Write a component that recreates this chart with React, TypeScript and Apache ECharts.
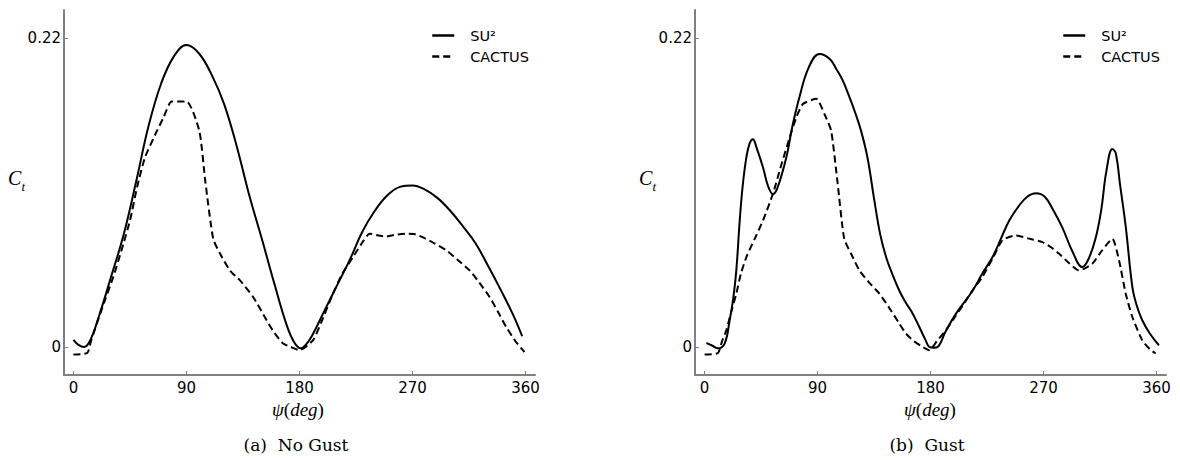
import React, { useEffect, useRef } from "react";
import * as echarts from "echarts";

// ---- data: [psi (deg), Ct] ----
const noGustSU2: [number, number][] = [
  [0, 0.005], [4, 0.0015], [8.5, 0], [13, 0.004], [20, 0.021], [30, 0.05], [40, 0.08], [50, 0.118],
  [60, 0.158], [70, 0.188], [80, 0.207], [90, 0.215], [100, 0.209], [110, 0.194], [120, 0.173],
  [130, 0.143], [140, 0.108], [150, 0.077], [160, 0.045], [170, 0.015], [176, 0.003], [181, -0.001],
  [185, 0.0015], [190, 0.008], [200, 0.026], [210, 0.044], [220, 0.062], [230, 0.082], [240, 0.097],
  [250, 0.108], [260, 0.114], [270, 0.115], [280, 0.112], [290, 0.106], [300, 0.097], [310, 0.086],
  [320, 0.074], [330, 0.058], [340, 0.041], [350, 0.023], [357.3, 0.0076],
];

const noGustCACTUS: [number, number][] = [
  [0, -0.0054], [11, -0.0043], [14, 0.004], [18.6, 0.0166], [25, 0.033], [31.8, 0.05], [38, 0.068],
  [45, 0.09], [51, 0.115], [57, 0.135], [65, 0.151], [72, 0.164], [78.2, 0.1748], [90.1, 0.1748],
  [100.2, 0.154], [105, 0.118], [111.3, 0.077], [117, 0.066], [124.6, 0.0545], [133, 0.047],
  [143.1, 0.0356], [153.8, 0.019], [160, 0.01], [167, 0.0024], [173, 0], [180, -0.0023],
  [190.8, 0.0048], [198, 0.019], [206.7, 0.038], [214, 0.052], [222.6, 0.064], [229, 0.073],
  [235.9, 0.0807], [242, 0.0795], [249.2, 0.0787], [257, 0.08], [265, 0.0807], [271, 0.0805],
  [278.3, 0.078], [287, 0.074], [296.9, 0.0688], [306, 0.062], [315.4, 0.0545], [323, 0.046],
  [331.3, 0.0356], [338, 0.025], [344.6, 0.0142], [352, 0.004], [359.1, -0.0036],
];

const gustSU2: [number, number][] = [
  [1.6, 0.0028], [6, 0.001], [10.8, -0.001], [16.1, 0.0024], [20.1, 0.019], [23, 0.035],
  [25.4, 0.0545], [28.1, 0.09], [30.5, 0.115], [33.4, 0.135], [36, 0.145], [38.6, 0.148],
  [41.5, 0.142], [46.6, 0.128], [50.5, 0.115], [54.5, 0.109], [58, 0.113], [65.2, 0.135],
  [70, 0.157], [75.7, 0.178], [83, 0.199], [91.6, 0.2087], [100, 0.205], [105, 0.198],
  [110, 0.19], [115, 0.179], [120, 0.167], [125, 0.153], [130, 0.134], [135, 0.106],
  [140, 0.08], [145, 0.063], [150, 0.051], [155.2, 0.04], [160, 0.032], [165, 0.025],
  [171.1, 0.0142], [176, 0.005], [179.1, 0], [182.5, -0.0005], [185.7, 0], [192, 0.011],
  [200.3, 0.0237], [213.5, 0.04], [221, 0.052], [229.4, 0.064], [236, 0.077], [242.7, 0.09],
  [250, 0.1], [257, 0.107], [263.9, 0.1095], [271, 0.107], [278, 0.097], [285, 0.085],
  [293, 0.068], [300.9, 0.0569], [306, 0.063], [311.6, 0.078], [316, 0.098], [320, 0.125],
  [324.8, 0.141], [327.5, 0.138], [331, 0.115], [335.4, 0.086], [340.7, 0.0427], [344, 0.03],
  [348.6, 0.019], [355, 0.009], [361.9, 0.0012],
];

const gustCACTUS: [number, number][] = [
  [0.2, -0.0054], [10.8, -0.0043], [14, 0.004], [17.5, 0.012], [21, 0.024], [25.4, 0.038],
  [29, 0.052], [33.4, 0.064], [40, 0.077], [46.6, 0.09], [54.5, 0.109], [61, 0.129],
  [67.8, 0.149], [73, 0.163], [78.4, 0.173], [89, 0.1767], [96, 0.165], [100.9, 0.154],
  [106, 0.117], [111.3, 0.077], [117, 0.066], [123.4, 0.0545], [131, 0.046], [139.3, 0.038],
  [147, 0.028], [155.2, 0.0166], [160, 0.01], [165.8, 0.0048], [172, 0.001], [179.1, -0.0023],
  [185, 0.004], [192.3, 0.012], [200, 0.022], [208.2, 0.033], [214, 0.041], [221.4, 0.05],
  [230, 0.064], [237.3, 0.076], [248, 0.0794], [259, 0.077], [269.1, 0.0747], [276, 0.071],
  [282.4, 0.0664], [290, 0.06], [298.3, 0.0545], [303, 0.056], [308.9, 0.0593], [316, 0.068],
  [324.8, 0.077], [330.1, 0.0617], [335.4, 0.038], [340.7, 0.0213], [348.6, 0.0047],
  [355, -0.002], [359.3, -0.0047],
];

const seriesNames = ["SU\u00B2", "CACTUS"];
const xTicks = [0, 90, 180, 270, 360];
const yTicks = [0, 0.22];
const captions = ["(a)  No Gust", "(b)  Gust"];

const AXIS_GRAY = "#808080";

function makeXAxis(gridIndex: number) {
  return {
    type: "value",
    gridIndex,
    min: -7.5,
    max: 367.5,
    splitLine: { show: false },
    axisLine: { show: true, onZero: false, lineStyle: { color: AXIS_GRAY, width: 2 } },
    axisTick: { show: true, inside: true, length: 4, customValues: xTicks, lineStyle: { color: AXIS_GRAY, width: 1 } },
    axisLabel: {
      customValues: xTicks,
      color: "#000",
      fontFamily: "DejaVu Sans",
      fontSize: 15,
      margin: 5,
    },
  };
}

function makeYAxis(gridIndex: number) {
  return {
    type: "value",
    gridIndex,
    min: -0.02,
    max: 0.24,
    splitLine: { show: false },
    axisLine: { show: true, onZero: false, lineStyle: { color: AXIS_GRAY, width: 2 } },
    axisTick: { show: true, inside: true, length: 4, customValues: yTicks, lineStyle: { color: AXIS_GRAY, width: 1 } },
    axisLabel: {
      customValues: yTicks,
      color: "#000",
      fontFamily: "DejaVu Sans",
      fontSize: 15,
      margin: 3,
      formatter: (v: number) => (v === 0 ? "0" : v.toFixed(2)),
    },
  };
}

function lineSeries(name: string, data: [number, number][], idx: number, dashed: boolean) {
  return {
    type: "line",
    name,
    xAxisIndex: idx,
    yAxisIndex: idx,
    data,
    symbol: "none",
    showSymbol: false,
    smooth: dashed ? 0.2 : 0.4,
    lineStyle: { color: "#000", width: 2, type: dashed ? [7, 4] : "solid" },
    itemStyle: { color: "#000" },
  };
}

function legendAt(left: number) {
  return {
    left,
    top: 23,
    orient: "vertical",
    itemWidth: 22,
    itemHeight: 14,
    itemGap: 6,
    selectedMode: false,
    data: seriesNames,
    itemStyle: { opacity: 0 },
    lineStyle: { color: "#000", width: 2.5 },
    textStyle: { color: "#000", fontFamily: "DejaVu Sans", fontSize: 14.5, padding: [0, 0, 0, 11] },
  };
}

function panelTexts(ctX: number, psiX: number, capX: number, caption: string) {
  const serif = "Liberation Serif";
  return [
    { type: "text", x: ctX, y: 178, style: { text: "C", font: `italic 20px "${serif}"`, fill: "#000", verticalAlign: "middle", align: "left" } },
    { type: "text", x: ctX + 13.5, y: 186, style: { text: "t", font: `italic 13px "${serif}"`, fill: "#000", verticalAlign: "middle", align: "left" } },
    {
      type: "text",
      x: psiX,
      y: 409,
      style: {
        text: "{i|\u03C8}{u|(}{i|deg}{u|)}",
        align: "center",
        verticalAlign: "middle",
        rich: {
          i: { fontFamily: serif, fontStyle: "italic", fontSize: 19, fill: "#000", color: "#000" },
          u: { fontFamily: serif, fontSize: 19, fill: "#000", color: "#000" },
        },
      },
    },
    { type: "text", x: capX, y: 445, style: { text: caption, font: `17px "DejaVu Serif"`, fill: "#000", align: "center", verticalAlign: "middle" } },
  ];
}

export default function App() {
  const ref = useRef<HTMLDivElement>(null);
  useEffect(() => {
    if (!ref.current) return;
    const chart = echarts.init(ref.current, null, { renderer: "svg" });
    chart.setOption({
      animation: false,
      backgroundColor: "#fff",
      grid: [
        { left: 64, right: 645, top: 10, bottom: 85 },
        { left: 695, right: 14, top: 10, bottom: 85 },
      ],
      xAxis: [makeXAxis(0), makeXAxis(1)],
      yAxis: [makeYAxis(0), makeYAxis(1)],
      legend: [legendAt(426), legendAt(1057)],
      series: [
        lineSeries(seriesNames[0], noGustSU2, 0, false),
        lineSeries(seriesNames[1], noGustCACTUS, 0, true),
        lineSeries(seriesNames[0], gustSU2, 1, false),
        lineSeries(seriesNames[1], gustCACTUS, 1, true),
      ],
      graphic: [
        ...panelTexts(8, 298, 296, captions[0]),
        ...panelTexts(639, 930, 927, captions[1]),
      ],
    });
    return () => chart.dispose();
  }, []);
  return <div ref={ref} style={{ position: "absolute", left: 0, top: 0, width: 1180, height: 460 }} />;
}
